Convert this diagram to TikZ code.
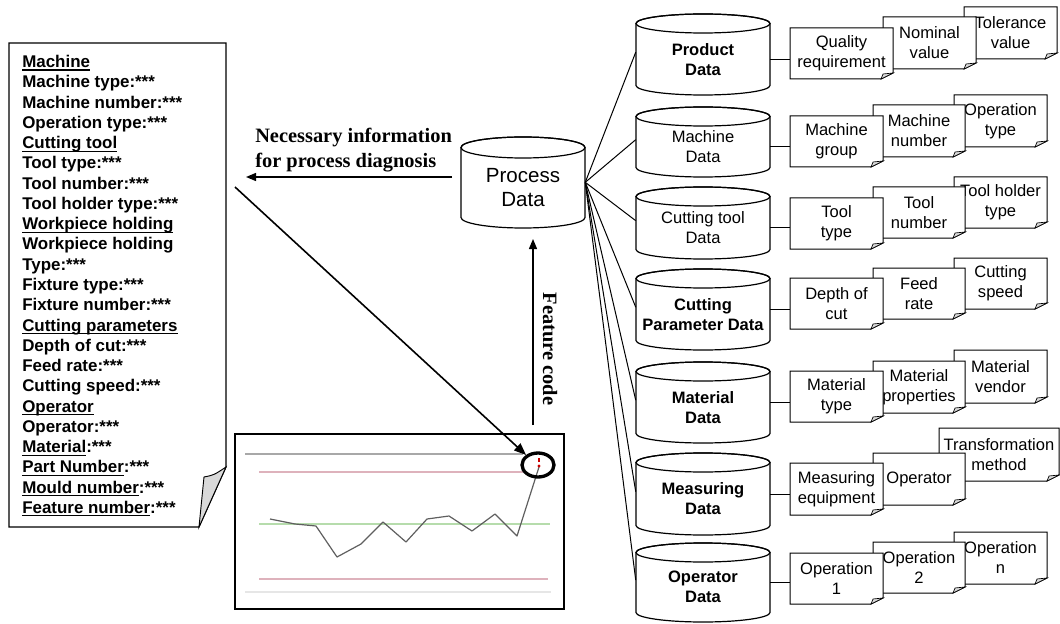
\documentclass[tikz,border=0pt]{standalone}
\usepackage{fontspec}
\setmainfont{Liberation Serif}
\newfontfamily\arial{Liberation Sans}
\usetikzlibrary{arrows.meta,shapes.geometric}

% underline at a fixed depth below the baseline
\newcommand\ulin[1]{\setbox0\hbox{#1}\rlap{\rule[-2.3pt]{\wd0}{0.85pt}}\box0}

\definecolor{limitred}{RGB}{222,178,188}
\definecolor{centergreen}{RGB}{182,220,172}
\definecolor{faintgray}{RGB}{230,230,230}
\definecolor{toplinegray}{RGB}{168,168,168}
\definecolor{seriesgray}{RGB}{95,95,95}

\tikzset{
  drumline/.style={draw, line width=0.9pt, fill=white},
  drumtext/.style={inner sep=0pt, align=center, font=\arial\fontsize{12.4}{15}\selectfont},
  drumreg/.style={},
  drumbold/.style={font=\arial\bfseries\fontsize{12.4}{15}\selectfont},
  procfont/.style={font=\arial\fontsize{15.4}{18}\selectfont},
  docline/.style={draw, line width=0.75pt, fill=white},
  foldfill/.style={draw, line width=0.5pt, fill=gray!30},
  doctext/.style={inner sep=0pt, align=center, font=\arial\fontsize{12.4}{15}\selectfont},
  link/.style={line width=0.75pt},
  arr/.style={line width=1pt, -{Triangle[length=7.5pt,width=6pt]}},
  bigarr/.style={line width=1.2pt, -{Triangle[length=9pt,width=7pt]}},
  lbl/.style={inner sep=0pt, align=left, font=\bfseries\fontsize{15.3}{18.75}\selectfont},
  notetext/.style={inner sep=0pt, align=left, font=\arial\bfseries\fontsize{12.7}{15.2}\selectfont},
}

% database drum: name, cx, top, bottom, half width, ry, font style, text
\newcommand\drum[8]{%
  \path[drumline] (#2-#5,#3+#6) -- (#2-#5,#4-#6)
     arc[start angle=180, end angle=360, x radius=#5*0.75pt, y radius=#6*0.75pt]
     -- (#2+#5,#3+#6)
     arc[start angle=0, end angle=180, x radius=#5*0.75pt, y radius=#6*0.75pt] -- cycle;
  \draw[line width=0.9pt] (#2,#3+#6) ellipse[x radius=#5*0.75pt, y radius=#6*0.75pt];
  \node[drumtext, #7, minimum width=2*#5*0.75pt, minimum height=(#4-#3-#6)*0.75pt]
     (#1) at ({#2},{(#3+#6+#4)/2}) {#8};
}

% document with folded corner: name, left, top, right, bottom, text
\newcommand\docnote[6]{%
  \path[docline] (#2,#3) -- (#4,#3) -- (#4,#5-6) -- (#4-12,#5) -- (#2,#5) -- cycle;
  \path[foldfill] (#4,#5-6) -- (#4-10,#5-5) -- (#4-12,#5) -- cycle;
  \node[doctext, minimum width=(#4-#2)*0.75pt, minimum height=(#5-#3)*0.75pt]
     (#1) at ({(#2+#4)/2},{(#3+#5)/2}) {#6};
}

\begin{document}
\begin{tikzpicture}[x=0.75pt, y=-0.75pt]
\useasboundingbox (0,0) rectangle (1060,624);

% ---------- information sheet ----------
\node[minimum width=217*0.75pt, minimum height=484*0.75pt, inner sep=0pt] (note) at (117.5,285) {};
\draw[line width=0.9pt, fill=white] (9,43) -- (226,43) -- (226,467) -- (199,527) -- (9,527) -- cycle;
\filldraw[line width=0.7pt, fill=gray!30] (226,467) .. controls (214,475) .. (204,477) -- (199,527) -- cycle;
\node[notetext, anchor=north west] (notetext) at (22,55) {%
\ulin{Machine}\\
Machine type:***\\
Machine number:***\\
Operation type:***\\
\ulin{Cutting tool}\\
Tool type:***\\
Tool number:***\\
Tool holder type:***\\
\ulin{Workpiece holding}\\
Workpiece holding\\
Type:***\\
Fixture type:***\\
Fixture number:***\\
\ulin{Cutting parameters}\\
Depth of cut:***\\
Feed rate:***\\
Cutting speed:***\\
\ulin{Operator}\\
Operator:***\\
\ulin{Material}:***\\
\ulin{Part Number}:***\\
\ulin{Mould number}:***\\
\ulin{Feature number}:***};

% ---------- control chart ----------
\node[draw, line width=1pt, minimum width=329*0.75pt, minimum height=175*0.75pt, inner sep=0pt] (chart) at (399.5,521.5) {};
\draw[toplinegray, line width=0.9pt] (245,454) -- (523,454);
\draw[limitred, line width=1pt] (259,472) -- (523,472);
\draw[centergreen, line width=1pt] (259,524) -- (550,524);
\draw[limitred, line width=1pt] (259,579) -- (548,579);
\draw[faintgray, line width=0.8pt] (245,592) -- (551,592);
\draw[seriesgray, line width=0.9pt, line join=round]
  (270,519) -- (295,524) -- (316,526) -- (337,557) -- (361,544) -- (383,522)
  -- (406,542) -- (427,519) -- (449,516) -- (472,531) -- (495,514) -- (517,536) -- (539,467);
\draw[red!80!black, line width=0.8pt] (539,458) -- (539,462);
\fill[red!80!black] (539,466) circle[radius=1.2pt];
\node[ellipse, draw, line width=2.5pt, minimum width=32*0.75pt, minimum height=24*0.75pt, inner sep=0pt] (alarm) at (538,465) {};

% ---------- process database ----------
\drum{proc}{523}{137}{228}{62}{10.5}{procfont}{Process\\Data}

% ---------- sub databases ----------
\drum{prod}{703}{14}{95}{67}{9.5}{drumbold}{Product\\Data}
\drum{mach}{703}{107}{177}{67}{9.5}{drumreg}{Machine\\Data}
\drum{tool}{703}{187}{259}{67}{9.5}{drumreg}{Cutting tool\\Data}
\drum{param}{703}{269}{350}{67}{9.5}{drumbold}{Cutting\\Parameter Data}
\drum{matl}{703}{362}{443}{67}{9.5}{drumbold}{Material\\Data}
\drum{meas}{703}{453}{535}{67}{9.5}{drumbold}{Measuring\\Data}
\drum{oper}{703}{543}{622}{67}{9.5}{drumbold}{Operator\\Data}

\coordinate (hub) at (proc.5);
\foreach \c in {prod,mach,tool,param,matl,meas,oper}
  \draw[link] (hub) -- (\c.174);

% ---------- attribute documents ----------
\docnote{tolv}{964}{7}{1057}{59}{Tolerance\\value}
\docnote{nomv}{883}{17}{976}{69}{Nominal\\value}
\docnote{qreq}{790}{28}{893}{79}{Quality\\requirement}
\draw[link] (prod.east) -- (qreq.west |- prod.east);

\docnote{opty}{954}{95}{1047}{147}{Operation\\type}
\docnote{mnum}{873}{105}{965}{157}{Machine\\number}
\docnote{mgrp}{790}{116}{883}{167}{Machine\\group}
\draw[link] (mach.east) -- (mgrp.west |- mach.east);

\docnote{thty}{954}{177}{1047}{228}{Tool holder\\type}
\docnote{tnum}{873}{187}{965}{238}{Tool\\number}
\docnote{ttyp}{790}{198}{883}{249}{Tool\\type}
\draw[link] (tool.east) -- (ttyp.west |- tool.east);

\docnote{cspd}{954}{258}{1047}{309}{Cutting\\speed}
\docnote{frate}{873}{268}{965}{319}{Feed\\rate}
\docnote{dcut}{790}{278}{883}{329}{Depth of\\cut}
\draw[link] (param.4) -- (dcut.west |- param.4);

\docnote{mven}{954}{350}{1047}{403}{Material\\vendor}
\docnote{mprop}{873}{361}{965}{413}{Material\\properties}
\docnote{mtyp}{790}{371}{883}{422}{Material\\type}
\draw[link] (matl.4) -- (mtyp.west |- matl.4);

\docnote{trm}{939}{428}{1059}{481}{Transformation\\method}
\docnote{mop}{873}{453}{965}{505}{Operator}
\docnote{meq}{790}{463}{883}{515}{Measuring\\equipment}
\draw[link] (meas.4) -- (meq.west |- meas.4);

\docnote{opn}{954}{532}{1047}{584}{Operation\\n}
\docnote{op2}{873}{542}{965}{593}{Operation\\2}
\docnote{op1}{790}{553}{883}{604}{Operation\\1}
\draw[link] (oper.4) -- (op1.west |- oper.4);

% ---------- information flow ----------
\node[lbl, anchor=west] (info) at (255,150) {Necessary information\\for process diagnosis};
\coordinate (infostart) at (452,177);
\coordinate (infotip) at (246,177);
\draw[arr] (infostart) -- (infotip);

\node[lbl, rotate=-90] (fcode) at (550,349) {Feature code};
\coordinate (fcstart) at (533,425);
\coordinate (fctip) at (533,239);
\draw[arr] (fcstart) -- (fctip);

\coordinate (diagstart) at (235,187);
\draw[bigarr] (diagstart) -- (alarm.140);
\end{tikzpicture}
\end{document}
